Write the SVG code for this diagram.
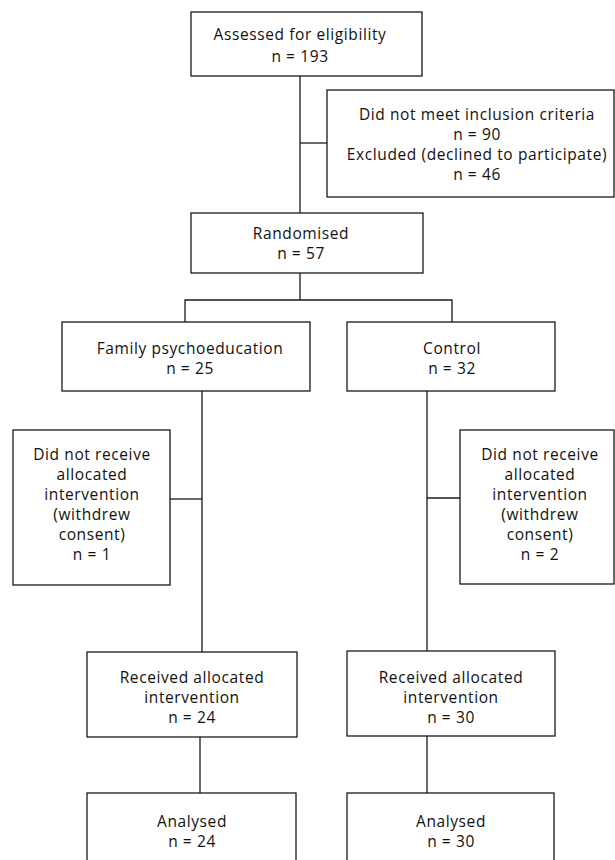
<svg xmlns="http://www.w3.org/2000/svg" width="615" height="860" viewBox="0 0 615 860">
<style>
.box{fill:#fff;stroke:#1a1a1a;stroke-width:1.3}
.ln{fill:none;stroke:#1a1a1a;stroke-width:1.3}
text{font-family:"Open Sans","Liberation Sans",sans-serif;font-size:15.5px;letter-spacing:0.6px;fill:#111;text-anchor:middle}
</style>
<rect width="615" height="860" fill="#fff"/>
<g id="connectors">
<path class="ln" d="M300 76V213"/>
<path class="ln" d="M300 143H327"/>
<path class="ln" d="M300 273V300"/>
<path class="ln" d="M185 322V300H452V322"/>
<path class="ln" d="M202 391V652"/>
<path class="ln" d="M170 499H202"/>
<path class="ln" d="M427 391V651"/>
<path class="ln" d="M427 498H460"/>
<path class="ln" d="M200 737V793"/>
<path class="ln" d="M427 736V793"/>
</g>
<g id="assessed">
<rect class="box" x="191" y="12" width="231" height="64"/>
<text x="300" y="40">Assessed for eligibility</text>
<text x="300" y="62">n = 193</text>
</g>
<g id="excluded">
<rect class="box" x="327" y="90" width="287" height="107"/>
<text x="477" y="120">Did not meet inclusion criteria</text>
<text x="477" y="140">n = 90</text>
<text x="477" y="160">Excluded (declined to participate)</text>
<text x="477" y="180">n = 46</text>
</g>
<g id="randomised">
<rect class="box" x="191" y="213" width="232" height="60"/>
<text x="301" y="239">Randomised</text>
<text x="301" y="259">n = 57</text>
</g>
<g id="family">
<rect class="box" x="62" y="322" width="248" height="69"/>
<text x="190" y="354">Family psychoeducation</text>
<text x="190" y="374">n = 25</text>
</g>
<g id="control">
<rect class="box" x="347" y="322" width="208" height="69"/>
<text x="452" y="354">Control</text>
<text x="452" y="374">n = 32</text>
</g>
<g id="withdrew1">
<rect class="box" x="13" y="430" width="157" height="155"/>
<text x="92" y="460">Did not receive</text>
<text x="92" y="480">allocated</text>
<text x="92" y="500">intervention</text>
<text x="92" y="520">(withdrew</text>
<text x="92" y="540">consent)</text>
<text x="92" y="560">n = 1</text>
</g>
<g id="withdrew2">
<rect class="box" x="460" y="430" width="154" height="154"/>
<text x="540" y="460">Did not receive</text>
<text x="540" y="480">allocated</text>
<text x="540" y="500">intervention</text>
<text x="540" y="520">(withdrew</text>
<text x="540" y="540">consent)</text>
<text x="540" y="560">n = 2</text>
</g>
<g id="received1">
<rect class="box" x="87" y="652" width="210" height="85"/>
<text x="192" y="683">Received allocated</text>
<text x="192" y="703">intervention</text>
<text x="192" y="723">n = 24</text>
</g>
<g id="received2">
<rect class="box" x="347" y="651" width="208" height="85"/>
<text x="451" y="683">Received allocated</text>
<text x="451" y="703">intervention</text>
<text x="451" y="723">n = 30</text>
</g>
<g id="analysed1">
<rect class="box" x="87" y="793" width="209" height="80"/>
<text x="192" y="827">Analysed</text>
<text x="192" y="847">n = 24</text>
</g>
<g id="analysed2">
<rect class="box" x="347" y="793" width="207" height="80"/>
<text x="451" y="827">Analysed</text>
<text x="451" y="847">n = 30</text>
</g>
</svg>
